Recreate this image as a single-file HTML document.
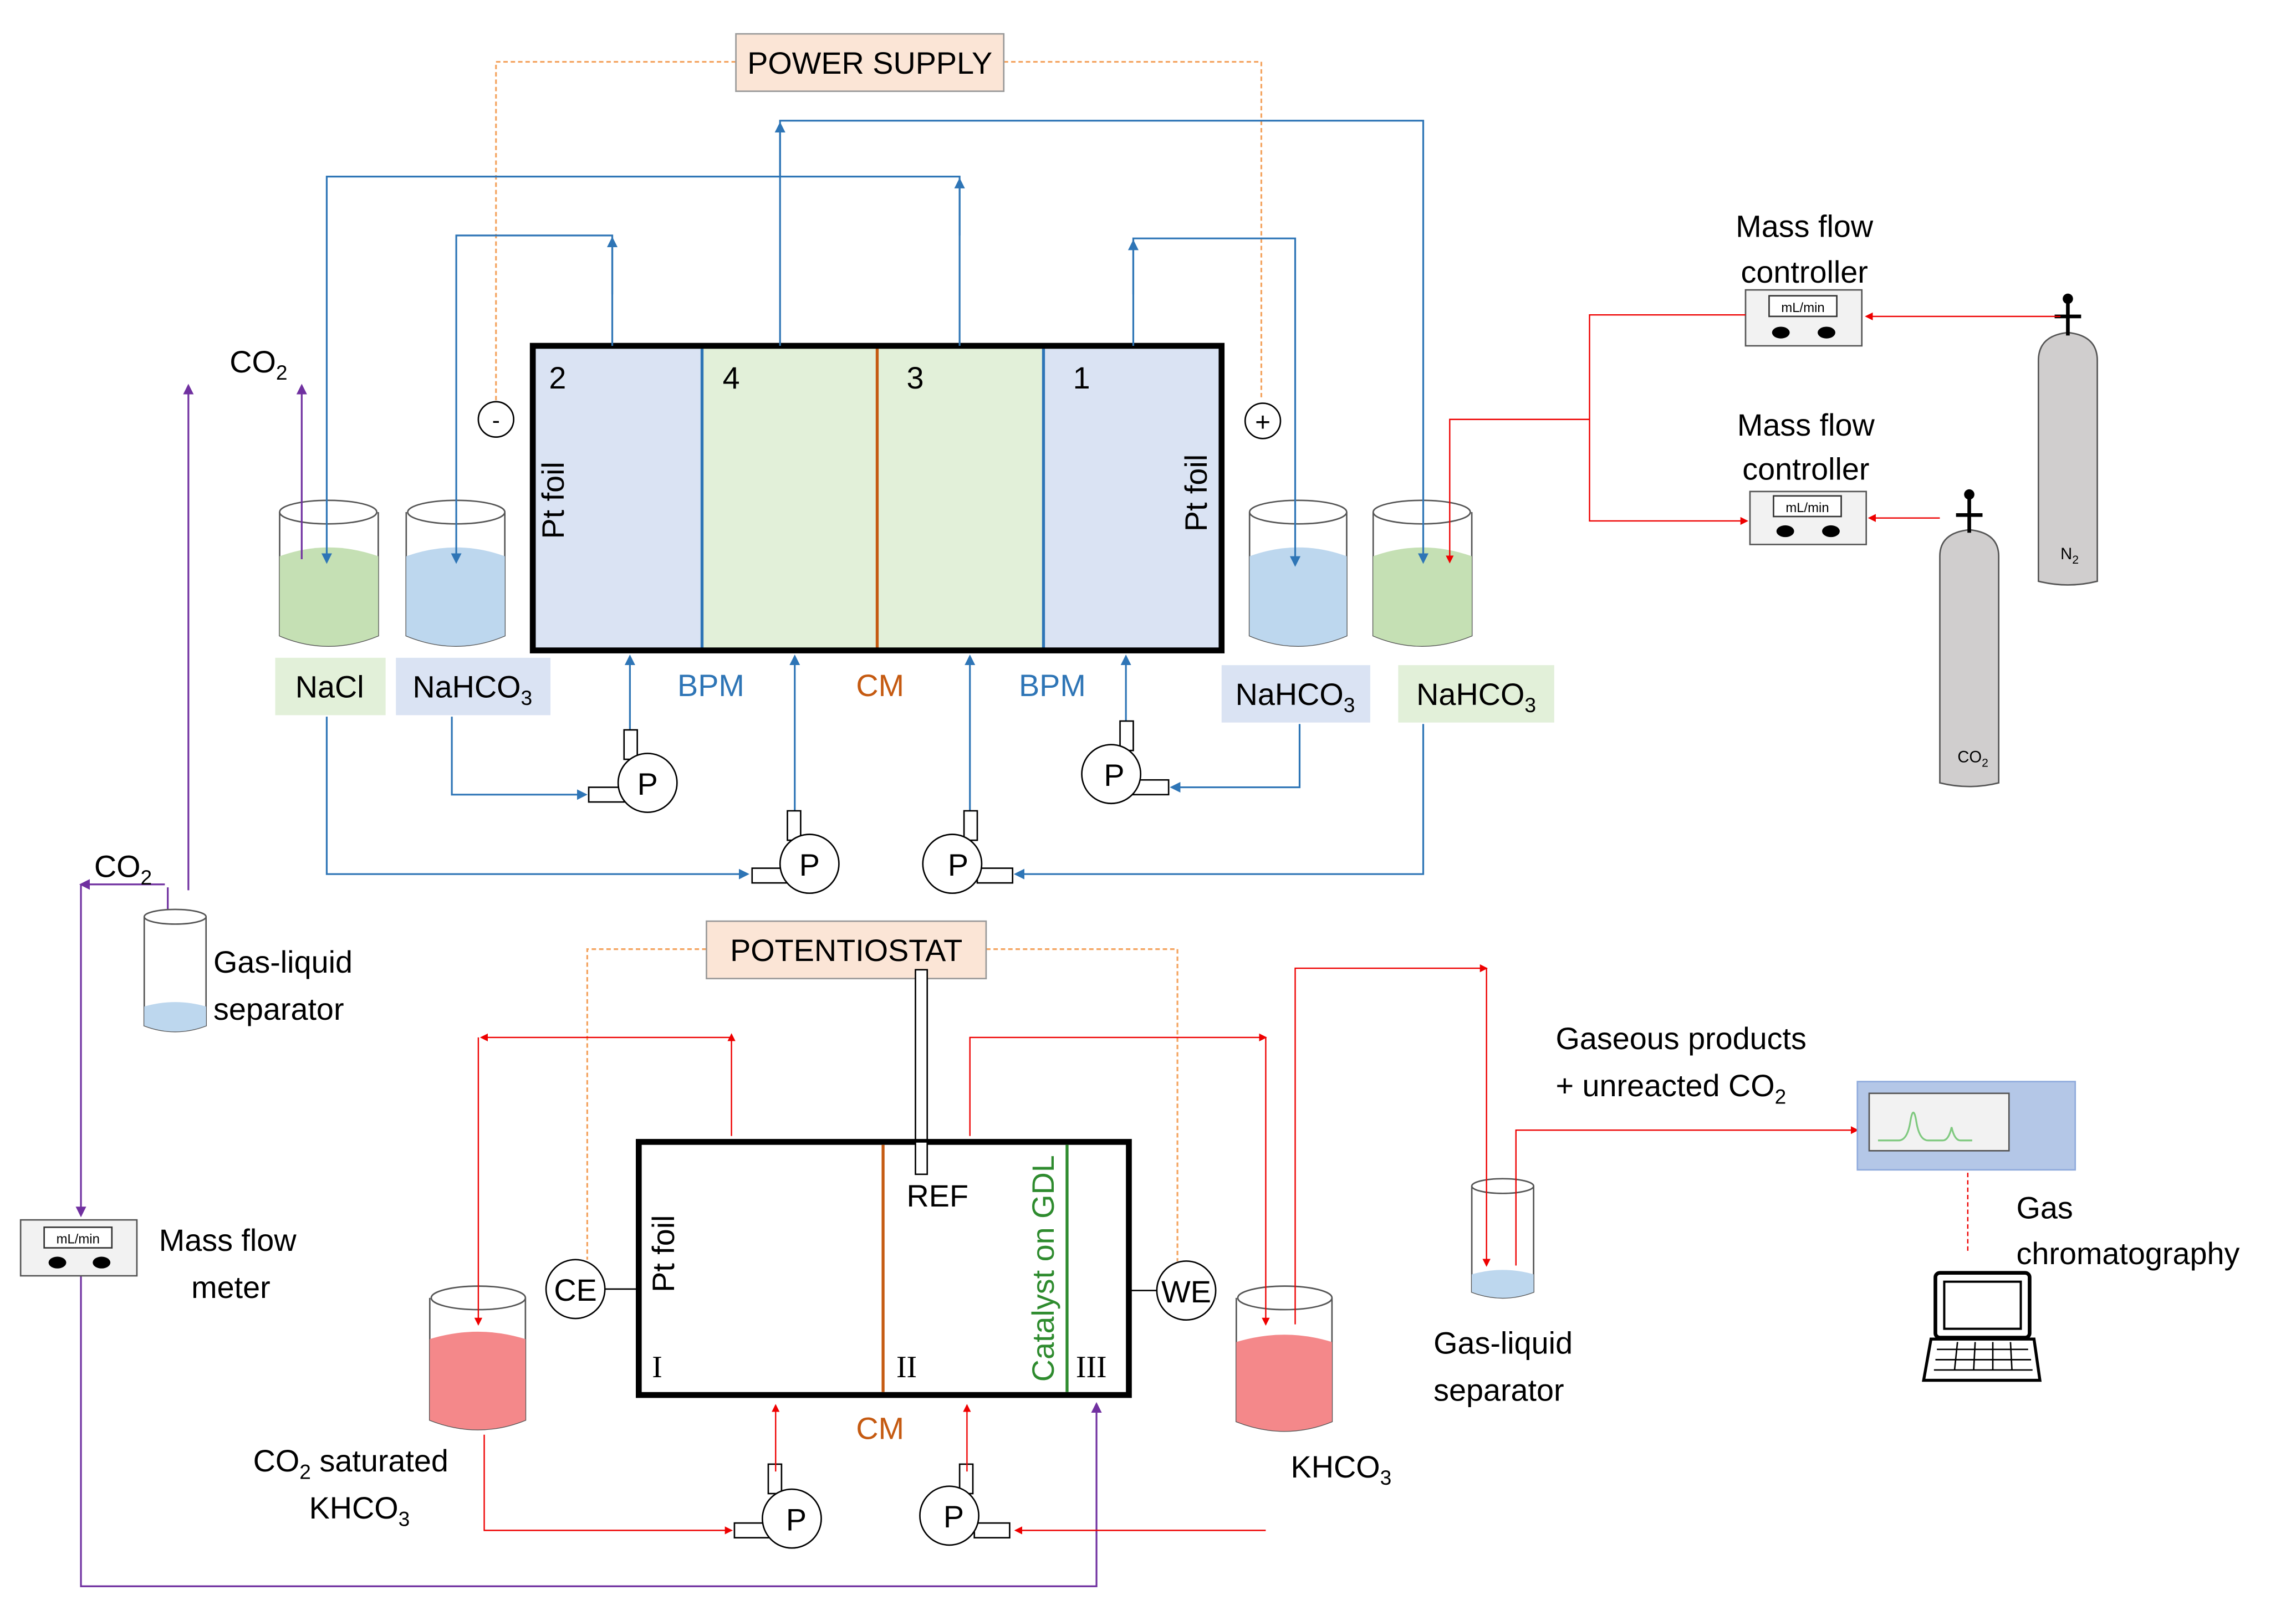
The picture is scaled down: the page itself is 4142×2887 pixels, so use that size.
<!DOCTYPE html>
<html><head><meta charset="utf-8"><style>html,body{margin:0;padding:0;background:#fff}svg{display:block}text{font-family:"Liberation Sans",sans-serif;fill:#000}</style></head><body>
<svg width="4142" height="2887" viewBox="0 0 1560 1087.3" xmlns="http://www.w3.org/2000/svg" font-size="21">
<defs>
<marker id="ab" markerWidth="6" markerHeight="6" refX="5" refY="3" orient="auto"><path d="M0,0 L6,3 L0,6z" fill="#2e75b6"/></marker>
<marker id="ar" markerWidth="6" markerHeight="6" refX="5" refY="3" orient="auto"><path d="M0,0 L6,3 L0,6z" fill="#e00"/></marker>
<marker id="ap" markerWidth="6" markerHeight="6" refX="5" refY="3" orient="auto"><path d="M0,0 L6,3 L0,6z" fill="#7030a0"/></marker>
</defs>
<g fill="none" stroke="#f4a460" stroke-width="1.2" stroke-dasharray="3,2">
<path d="M500,42 H337 V272"/><path d="M682,42 H857 V272"/>
<path d="M480,645 H399 V856"/><path d="M670,645 H800 V857"/>
</g>
<rect x="500" y="23" width="182" height="39" fill="#fbe5d6" stroke="#999"/>
<text x="591" y="50" text-anchor="middle">POWER SUPPLY</text>
<circle cx="337" cy="285" r="12" fill="#fff" stroke="#000"/><text x="337" y="291" text-anchor="middle" font-size="16">-</text>
<circle cx="858" cy="286" r="12" fill="#fff" stroke="#000"/><text x="858" y="293" text-anchor="middle" font-size="18">+</text>
<rect x="362" y="235" width="115" height="207" fill="#dae3f3"/>
<rect x="477" y="235" width="232" height="207" fill="#e2f0d9"/>
<rect x="709" y="235" width="121" height="207" fill="#dae3f3"/>
<line x1="477" y1="235" x2="477" y2="442" stroke="#2e75b6" stroke-width="2"/>
<line x1="596" y1="235" x2="596" y2="442" stroke="#c55a11" stroke-width="2"/>
<line x1="709" y1="235" x2="709" y2="442" stroke="#2e75b6" stroke-width="2"/>
<rect x="362" y="235" width="468" height="207" fill="none" stroke="#000" stroke-width="4"/>
<text x="373" y="264">2</text><text x="491" y="264">4</text><text x="616" y="264">3</text><text x="729" y="264">1</text>
<text transform="translate(383,340) rotate(-90)" text-anchor="middle">Pt foil</text>
<text transform="translate(820,335) rotate(-90)" text-anchor="middle">Pt foil</text>
<text x="483" y="473" text-anchor="middle" style="fill:#2e75b6">BPM</text>
<text x="598" y="473" text-anchor="middle" style="fill:#c55a11">CM</text>
<text x="715" y="473" text-anchor="middle" style="fill:#2e75b6">BPM</text>
<g stroke="#555" stroke-width="1">
<path d="M190,348 V432 Q223,446 257,432 V348" fill="#fff"/><path d="M190,378 V432 Q223,446 257,432 V378 Q223,366 190,378z" fill="#c5e0b4" stroke="none"/><ellipse cx="223" cy="348" rx="33" ry="8" fill="#fff"/>
<path d="M276,348 V432 Q310,446 343,432 V348" fill="#fff"/><path d="M276,378 V432 Q310,446 343,432 V378 Q310,366 276,378z" fill="#bdd7ee" stroke="none"/><ellipse cx="310" cy="348" rx="33" ry="8" fill="#fff"/>
<path d="M849,348 V432 Q882,446 915,432 V348" fill="#fff"/><path d="M849,378 V432 Q882,446 915,432 V378 Q882,366 849,378z" fill="#bdd7ee" stroke="none"/><ellipse cx="882" cy="348" rx="33" ry="8" fill="#fff"/>
<path d="M933,348 V432 Q966,446 1000,432 V348" fill="#fff"/><path d="M933,378 V432 Q966,446 1000,432 V378 Q966,366 933,378z" fill="#c5e0b4" stroke="none"/><ellipse cx="966" cy="348" rx="33" ry="8" fill="#fff"/>
</g>
<rect x="187" y="447" width="75" height="39" fill="#e2f0d9"/><text x="224" y="474" text-anchor="middle">NaCl</text>
<rect x="269" y="447" width="105" height="39" fill="#dae3f3"/><text x="321" y="474" text-anchor="middle">NaHCO<tspan font-size="14" dy="5">3</tspan></text>
<rect x="830" y="452" width="101" height="39" fill="#dae3f3"/><text x="880" y="479" text-anchor="middle">NaHCO<tspan font-size="14" dy="5">3</tspan></text>
<rect x="950" y="452" width="106" height="39" fill="#e2f0d9"/><text x="1003" y="479" text-anchor="middle">NaHCO<tspan font-size="14" dy="5">3</tspan></text>
<g fill="none" stroke="#2e75b6" stroke-width="1.2">
<path d="M416,235 V160 H310 V382" marker-end="url(#ab)"/><path d="M416,200 V162" marker-end="url(#ab)"/>
<path d="M530,235 V82 H967 V382" marker-end="url(#ab)"/><path d="M530,120 V84" marker-end="url(#ab)"/>
<path d="M652,235 V120 H222 V382" marker-end="url(#ab)"/><path d="M652,160 V122" marker-end="url(#ab)"/>
<path d="M770,235 V162 H880 V384" marker-end="url(#ab)"/><path d="M770,200 V164" marker-end="url(#ab)"/>
<path d="M307,487 V540 H398" marker-end="url(#ab)"/><path d="M428,505 V446" marker-end="url(#ab)"/>
<path d="M222,487 V594 H508" marker-end="url(#ab)"/><path d="M540,560 V446" marker-end="url(#ab)"/>
<path d="M967,492 V594 H690" marker-end="url(#ab)"/><path d="M659,560 V446" marker-end="url(#ab)"/>
<path d="M883,492 V535 H796" marker-end="url(#ab)"/><path d="M765,495 V446" marker-end="url(#ab)"/>
</g>
<g stroke="#000" stroke-width="1" fill="#fff">
<rect x="424" y="496" width="9" height="20"/><rect x="400" y="535" width="24" height="10"/><circle cx="440" cy="532" r="20"/>
<rect x="535" y="551" width="9" height="20"/><rect x="511" y="590" width="24" height="10"/><circle cx="550" cy="587" r="20"/>
<rect x="655" y="551" width="9" height="20"/><rect x="664" y="590" width="24" height="10"/><circle cx="647" cy="587" r="20"/>
<rect x="761" y="490" width="9" height="20"/><rect x="770" y="530" width="24" height="10"/><circle cx="755" cy="526" r="20"/>
<rect x="522" y="995" width="9" height="20"/><rect x="499" y="1035" width="24" height="10"/><circle cx="538" cy="1032" r="20"/>
<rect x="652" y="995" width="9" height="20"/><rect x="662" y="1035" width="24" height="10"/><circle cx="645" cy="1030" r="20"/>
</g>
<g text-anchor="middle"><text x="440" y="540">P</text><text x="550" y="595">P</text><text x="651" y="595">P</text><text x="757" y="534">P</text><text x="541" y="1040">P</text><text x="648" y="1038">P</text></g>
<g fill="none" stroke="#7030a0" stroke-width="1.2">
<path d="M205,380 V262" marker-end="url(#ap)"/>
<path d="M128,605 V262" marker-end="url(#ap)"/>
<path d="M114,603 V680" marker-end="url(#ap)"/>
<path d="M112,601 H55" marker-end="url(#ap)"/>
<path d="M55,601 V826" marker-end="url(#ap)"/>
<path d="M55,867 V1078 H745 V954" marker-end="url(#ap)"/>
</g>
<text x="156" y="253">CO<tspan font-size="14" dy="5">2</tspan></text>
<text x="64" y="596">CO<tspan font-size="14" dy="5">2</tspan></text>
<g stroke="#555" fill="#fff"><path d="M98,623 V697 Q119,705 140,697 V623"/><path d="M98,684 V697 Q119,705 140,697 V684 Q119,678 98,684z" fill="#bdd7ee" stroke="none"/><ellipse cx="119" cy="623" rx="21" ry="5"/></g>
<text x="145" y="661">Gas-liquid</text><text x="145" y="693">separator</text>
<rect x="14" y="829" width="79" height="38" fill="#f2f2f2" stroke="#555"/><rect x="30" y="834" width="46" height="14" fill="#fff" stroke="#333"/><text x="53" y="845" font-size="9" text-anchor="middle">mL/min</text><ellipse cx="39" cy="858" rx="6" ry="4"/><ellipse cx="69" cy="858" rx="6" ry="4"/>
<text x="108" y="850">Mass flow</text><text x="130" y="882">meter</text>
<rect x="1186" y="197" width="79" height="38" fill="#f2f2f2" stroke="#555"/><rect x="1202" y="201" width="46" height="14" fill="#fff" stroke="#333"/><text x="1225" y="212" font-size="9" text-anchor="middle">mL/min</text><ellipse cx="1210" cy="226" rx="6" ry="4"/><ellipse cx="1241" cy="226" rx="6" ry="4"/>
<rect x="1189" y="334" width="79" height="36" fill="#f2f2f2" stroke="#555"/><rect x="1205" y="337" width="46" height="14" fill="#fff" stroke="#333"/><text x="1228" y="348" font-size="9" text-anchor="middle">mL/min</text><ellipse cx="1213" cy="361" rx="6" ry="4"/><ellipse cx="1244" cy="361" rx="6" ry="4"/>
<text x="1226" y="161" text-anchor="middle">Mass flow</text><text x="1226" y="192" text-anchor="middle">controller</text>
<text x="1227" y="296" text-anchor="middle">Mass flow</text><text x="1227" y="326" text-anchor="middle">controller</text>
<g stroke="#555" fill="#d0cece"><path d="M1385,245 Q1385,228 1405,226 Q1425,228 1425,245 V395 Q1405,400 1385,395z"/><path d="M1318,378 Q1318,362 1338,360 Q1358,362 1358,378 V532 Q1338,537 1318,532z"/></g>
<g stroke="#000" stroke-width="2.5"><line x1="1405" y1="203" x2="1405" y2="228"/><line x1="1396" y1="215" x2="1414" y2="215"/><line x1="1338" y1="336" x2="1338" y2="362"/><line x1="1329" y1="350" x2="1347" y2="350"/></g>
<circle cx="1405" cy="203" r="3.5"/><circle cx="1338" cy="336" r="3.5"/>
<text x="1400" y="380" font-size="11">N<tspan font-size="8" dy="3">2</tspan></text>
<text x="1330" y="518" font-size="11">CO<tspan font-size="8" dy="3">2</tspan></text>
<g fill="none" stroke="#e00" stroke-width="0.9">
<path d="M1400,215 H1268" marker-end="url(#ar)"/><path d="M1186,214 H1080 V354 H1187" marker-end="url(#ar)"/>
<path d="M1318,352 H1270" marker-end="url(#ar)"/>
<path d="M1080,285 H985 V382" marker-end="url(#ar)"/>
</g>
<rect x="480" y="626" width="190" height="39" fill="#fbe5d6" stroke="#999"/><text x="575" y="653" text-anchor="middle">POTENTIOSTAT</text>
<rect x="622" y="659" width="8" height="139" fill="#fff" stroke="#000"/>
<rect x="434" y="776" width="333" height="172" fill="#fff" stroke="#000" stroke-width="4"/>
<line x1="600" y1="778" x2="600" y2="946" stroke="#c55a11" stroke-width="2"/>
<line x1="725" y1="778" x2="725" y2="946" stroke="#2e8b2e" stroke-width="2"/>
<rect x="622" y="776" width="8" height="22" fill="#fff" stroke="#000"/>
<text x="616" y="820">REF</text>
<text x="443" y="936" style="font-family:'Liberation Serif'">I</text>
<text x="609" y="936" style="font-family:'Liberation Serif'">II</text>
<text x="731" y="936" style="font-family:'Liberation Serif'">III</text>
<text transform="translate(458,852) rotate(-90)" text-anchor="middle">Pt foil</text>
<text transform="translate(716,862) rotate(-90)" text-anchor="middle" style="fill:#2e8b2e">Catalyst on GDL</text>
<text x="598" y="978" text-anchor="middle" style="fill:#c55a11">CM</text>
<line x1="411" y1="876" x2="434" y2="876" stroke="#000"/><line x1="767" y1="877" x2="786" y2="877" stroke="#000"/>
<circle cx="391" cy="876" r="20" fill="#fff" stroke="#000"/><text x="391" y="884" text-anchor="middle">CE</text>
<circle cx="806" cy="877" r="20" fill="#fff" stroke="#000"/><text x="806" y="885" text-anchor="middle">WE</text>
<g stroke="#555"><path d="M292,882 V965 Q325,978 357,965 V882" fill="#fff"/><path d="M292,910 V965 Q325,978 357,965 V910 Q325,900 292,910z" fill="#f4888a" stroke="none"/><ellipse cx="325" cy="882" rx="32" ry="8" fill="#fff"/>
<path d="M840,882 V966 Q873,979 905,966 V882" fill="#fff"/><path d="M840,912 V966 Q873,979 905,966 V912 Q873,902 840,912z" fill="#f4888a" stroke="none"/><ellipse cx="873" cy="882" rx="32" ry="8" fill="#fff"/>
<path d="M1000,806 V878 Q1021,886 1042,878 V806" fill="#fff"/><path d="M1000,866 V878 Q1021,886 1042,878 V866 Q1021,860 1000,866z" fill="#bdd7ee" stroke="none"/><ellipse cx="1021" cy="806" rx="21" ry="5" fill="#fff"/></g>
<g fill="none" stroke="#e00" stroke-width="0.9">
<path d="M497,705 H327" marker-end="url(#ar)"/><path d="M325,705 V900" marker-end="url(#ar)"/>
<path d="M497,772 V703" marker-end="url(#ar)"/>
<path d="M659,772 V705 H860" marker-end="url(#ar)"/><path d="M860,705 V900" marker-end="url(#ar)"/>
<path d="M880,900 V658 H1010" marker-end="url(#ar)"/><path d="M1010,658 V860" marker-end="url(#ar)"/>
<path d="M1030,860 V768 H1262" marker-end="url(#ar)"/>
<path d="M329,975 V1040 H497" marker-end="url(#ar)"/>
<path d="M527,1000 V955" marker-end="url(#ar)"/><path d="M657,1000 V955" marker-end="url(#ar)"/>
<path d="M860,1040 H690" marker-end="url(#ar)"/>
<path d="M1337,797 V850" stroke-dasharray="3,2"/>
</g>
<text x="172" y="1000">CO<tspan font-size="14" dy="5">2</tspan><tspan dy="-5"> saturated</tspan></text>
<text x="210" y="1032">KHCO<tspan font-size="14" dy="5">3</tspan></text>
<text x="877" y="1004">KHCO<tspan font-size="14" dy="5">3</tspan></text>
<text x="974" y="920">Gas-liquid</text><text x="974" y="952">separator</text>
<text x="1057" y="713">Gaseous products</text><text x="1057" y="745">+ unreacted CO<tspan font-size="14" dy="5">2</tspan></text>
<rect x="1262" y="735" width="148" height="60" fill="#b4c7e7" stroke="#8faadc"/>
<rect x="1270" y="743" width="95" height="39" fill="#f2f2f2" stroke="#555"/>
<path d="M1276,775 H1290 Q1296,775 1298,762 Q1300,750 1302,762 Q1304,775 1310,775 H1320 Q1324,775 1326,766 Q1328,775 1332,775 H1340" fill="none" stroke="#7fc97f" stroke-width="1.2"/>
<text x="1370" y="828">Gas</text><text x="1370" y="859">chromatography</text>
<rect x="1315" y="865" width="64" height="44" rx="3" fill="#fff" stroke="#000" stroke-width="2.5"/>
<rect x="1321" y="871" width="52" height="32" fill="#fff" stroke="#000" stroke-width="1.5"/>
<path d="M1312,910 H1382 L1386,938 H1307z" fill="#fff" stroke="#000" stroke-width="2"/>
<g stroke="#000" stroke-width="1"><line x1="1316" y1="917" x2="1378" y2="917"/><line x1="1315" y1="924" x2="1380" y2="924"/><line x1="1314" y1="931" x2="1381" y2="931"/>
<line x1="1330" y1="912" x2="1328" y2="931"/><line x1="1342" y1="912" x2="1341" y2="931"/><line x1="1354" y1="912" x2="1354" y2="931"/><line x1="1366" y1="912" x2="1367" y2="931"/></g>
</svg>
</body></html>
